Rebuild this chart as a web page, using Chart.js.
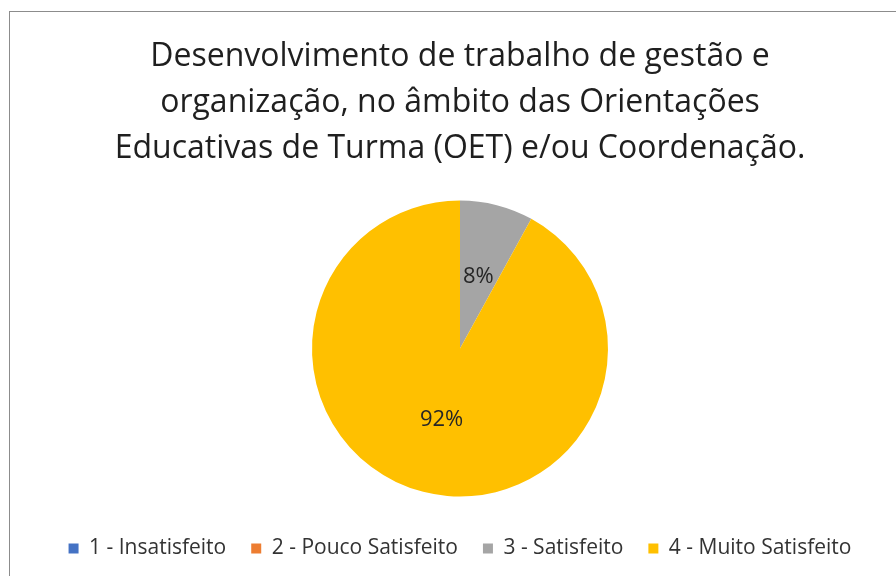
<!DOCTYPE html>
<html>
<head>
<meta charset="utf-8">
<script src="https://cdn.jsdelivr.net/npm/chart.js@4"></script>
<style>
  html, body { margin: 0; padding: 0; background: #fff; overflow: hidden; }
  #frame { position: absolute; left: 9px; top: 11px; width: 900px; height: 580px; border: 1px solid #8c8c8c; }
  #c { position: absolute; left: 0; top: 0; }
</style>
</head>
<body>
<div id="frame"></div>
<canvas id="c" width="896" height="576"></canvas>
<script>
const titleLines = [
  "Desenvolvimento de trabalho de gestão e",
  "organização, no âmbito das Orientações",
  "Educativas de Turma (OET) e/ou Coordenação."
];
const categories = ["1 - Insatisfeito", "2 - Pouco Satisfeito", "3 - Satisfeito", "4 - Muito Satisfeito"];
const percentages = [0, 0, 8, 92];
const colors = ["#4472C4", "#ED7D31", "#A5A5A5", "#FFC000"];

const FONT = "'Open Sans', Lato, sans-serif";

const pctLabels = {
  id: "pctLabels",
  afterDatasetsDraw(chart) {
    const ctx = chart.ctx;
    const meta = chart.getDatasetMeta(0);
    ctx.save();
    ctx.font = "22px " + FONT;
    ctx.fillStyle = "#262626";
    ctx.textAlign = "center";
    ctx.textBaseline = "middle";
    meta.data.forEach((arc, i) => {
      const v = chart.data.datasets[0].data[i];
      if (!v) return;
      const p = arc.tooltipPosition();
      ctx.fillText(v + "%", p.x, p.y);
    });
    ctx.restore();
  }
};

new Chart(document.getElementById("c"), {
  type: "pie",
  data: {
    labels: categories,
    datasets: [{
      data: percentages,
      backgroundColor: colors,
      borderWidth: 0,
      radius: 148
    }]
  },
  options: {
    responsive: false,
    animation: false,
    layout: { padding: { left: 24, right: 0, top: 0, bottom: 7 } },
    plugins: {
      tooltip: { enabled: false },
      title: {
        display: true,
        text: titleLines,
        color: "#1f1f1f",
        font: { family: FONT, size: 32, weight: "normal", lineHeight: 46 / 32 },
        padding: { top: 34, bottom: 12 }
      },
      legend: {
        position: "bottom",
        labels: {
          boxWidth: 10,
          boxHeight: 10,
          padding: 25,
          color: "#333333",
          font: { family: FONT, size: 21 }
        }
      }
    }
  },
  plugins: [pctLabels]
});
</script>
</body>
</html>
